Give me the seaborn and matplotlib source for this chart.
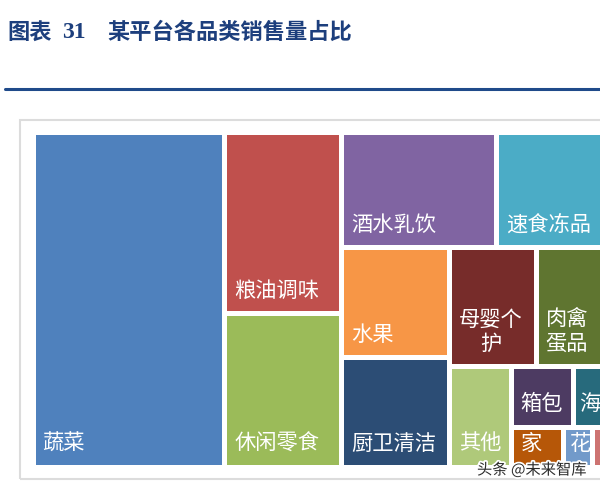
import numpy as np
import pandas as pd
import seaborn as sns
import matplotlib.pyplot as plt
from matplotlib.patches import Rectangle
import matplotlib.patheffects as pe

# 品类销售量占比(%)，按图中面积估读；"其他"在最后
categories = ["蔬菜", "粮油调味", "休闲零食", "酒水乳饮", "速食冻品", "水果", "厨卫清洁",
              "母婴个护", "肉禽蛋品", "箱包", "海鲜水产", "家居日用", "花卉绿植", "宠物用品", "其他"]
shares = [33.3, 11.0, 9.3, 9.25, 6.7, 6.15, 6.1, 5.35, 4.5, 1.95, 1.13, 1.09, 0.6, 0.33, 3.2]
# 单元格里实际显示的文字
labels = ["蔬菜", "粮油调味", "休闲零食", "酒水乳饮", "速食冻品", "水果", "厨卫清洁",
          "母婴个\n护", "肉禽\n蛋品", "箱包", "海", "家", "花", "", "其他"]
colors = ["#4F81BD", "#C0504D", "#9BBB59", "#8064A2", "#4BACC6", "#F79646", "#2C4D75",
          "#772C2A", "#5F7530", "#4D3B62", "#276A7C", "#B65708", "#729ACA", "#CD7371", "#AFC97A"]

df = pd.DataFrame({"cat": categories, "share": shares, "label": labels, "color": colors})
df = df.sort_values("share", ascending=False, kind="stable").reset_index(drop=True)


def worst(row, side):
    s = sum(row)
    return max(max(side * side * r / (s * s), (s * s) / (side * side * r)) for r in row)


def squarify(areas, x, y, w, h):
    # squarified treemap, y 轴朝下
    rects = []
    areas = list(areas)
    while areas:
        side = min(w, h)
        row = [areas.pop(0)]
        while areas and worst(row + [areas[0]], side) <= worst(row, side):
            row.append(areas.pop(0))
        s = sum(row)
        if w >= h:
            cw = s / h
            yy = y
            for a in row:
                rects.append((x, yy, cw, a / cw))
                yy += a / cw
            x += cw
            w -= cw
        else:
            rh = s / w
            xx = x
            for a in row:
                rects.append((xx, y, a / rh, rh))
                xx += a / rh
            y += rh
            h -= rh
    return rects


sns.set_theme(style="white")
plt.rcParams["font.family"] = ["Noto Sans CJK SC", "DejaVu Sans"]

FW, FH = 600, 490
fig = plt.figure(figsize=(FW / 100, FH / 100), dpi=100)
fig.patch.set_facecolor("white")

# 外框
fig.add_artist(Rectangle((20 / FW, 1 - 479 / FH), 1.0, (479 - 120) / FH, transform=fig.transFigure,
                         fill=False, edgecolor="#DCDCDC", linewidth=1.5, zorder=0))

W, H = 576.0, 334.0
ax = fig.add_axes([32.5 / FW, 1 - 466.5 / FH, W / FW, H / FH])
ax.set_xlim(0, W)
ax.set_ylim(H, 0)
ax.axis("off")

areas = df["share"].values / df["share"].sum() * W * H
rects = squarify(areas, 0, 0, W, H)

for (x, y, w, h), lab, col in zip(rects, df["label"], df["color"]):
    ax.add_patch(Rectangle((x, y), w, h, facecolor=col, edgecolor="white", linewidth=3.6))
    if lab:
        pad = 10 if w > 45 else 6.5
        ax.text(x + pad, y + h - 11.5, lab, color="white", fontsize=15.3, ha="left", va="bottom",
                multialignment="center", linespacing=1.1)

# 标题
navy = "#1D3F7D"
fig.text(7 / FW, 1 - 32 / FH, "图表", fontsize=16, fontweight="bold", color=navy, va="center")
fig.text(62 / FW, 1 - 32 / FH, "31", fontsize=17, fontweight="bold", color=navy, va="center",
         family=["Liberation Serif", "DejaVu Serif"])
fig.text(107 / FW, 1 - 32 / FH, "某平台各品类销售量占比", fontsize=16, fontweight="bold",
         color=navy, va="center")
fig.add_artist(plt.Line2D([5 / FW, 1.0], [1 - 89 / FH, 1 - 89 / FH], transform=fig.transFigure,
                          color="#1F4A8A", linewidth=2.2))

# 水印
fig.text(477 / FW, 1 - 470 / FH, "头条 @未来智库", fontsize=11, color="#2B2B2B", va="center",
         path_effects=[pe.withStroke(linewidth=2.5, foreground="white")])

fig.savefig("out.png", dpi=100)
